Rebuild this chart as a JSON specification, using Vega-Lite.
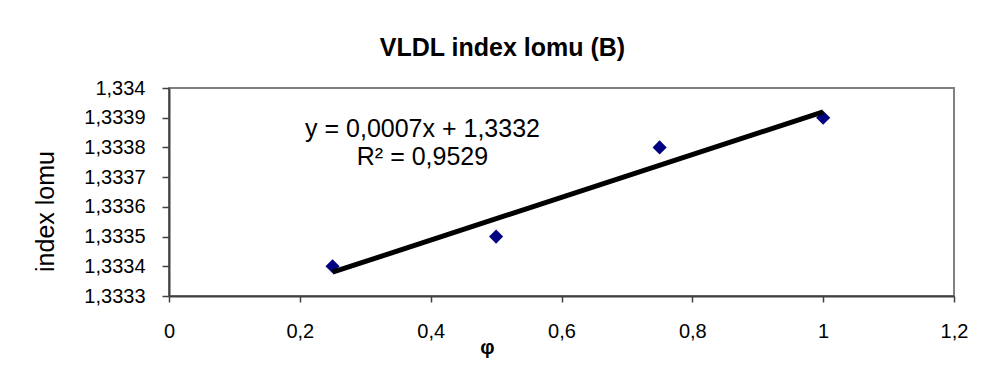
{
  "$schema": "https://vega.github.io/schema/vega-lite/v6.json",
  "width": 785,
  "height": 208,
  "autosize": {"type": "none"},
  "padding": {"left": 169, "top": 88, "right": 39, "bottom": 75},
  "background": "white",
  "title": {
    "text": "VLDL index lomu (B)",
    "font": "Liberation Sans",
    "fontSize": 25,
    "fontWeight": "bold",
    "color": "black",
    "anchor": "middle",
    "frame": "group",
    "dx": -59,
    "offset": 17
  },
  "datasets": {
    "points": [
      {"phi": 0.25, "index": 1.3334},
      {"phi": 0.5, "index": 1.3335},
      {"phi": 0.75, "index": 1.3338},
      {"phi": 1.0, "index": 1.3339}
    ],
    "equation": [
      {"phi": 0.3875, "index": 1.333836, "label": "y = 0,0007x + 1,3332\nR² = 0,9529"}
    ]
  },
  "encoding": {
    "x": {
      "field": "phi",
      "type": "quantitative",
      "scale": {"domain": [0, 1.2], "nice": false, "zero": false},
      "axis": {
        "values": [0, 0.2, 0.4, 0.6, 0.8, 1, 1.2],
        "labelExpr": "replace(format(datum.value, '~g'), '.', ',')",
        "grid": false,
        "tickSize": 6,
        "labelPadding": 19,
        "labelFlush": false,
        "labelOverlap": false,
        "labelFont": "Liberation Sans",
        "labelFontSize": 20,
        "labelColor": "black",
        "domainColor": "#404040",
        "domainWidth": 2,
        "tickColor": "#404040",
        "tickWidth": 1.5,
        "title": "φ",
        "titleFont": "Liberation Sans",
        "titleFontSize": 20,
        "titleFontWeight": "bold",
        "titleColor": "black",
        "titleX": 318,
        "titleY": 57,
        "titleAlign": "center",
        "titleBaseline": "alphabetic"
      }
    },
    "y": {
      "field": "index",
      "type": "quantitative",
      "scale": {"domain": [1.3333, 1.334], "nice": false, "zero": false},
      "axis": {
        "values": [1.3333, 1.3334, 1.3335, 1.3336, 1.3337, 1.3338, 1.3339, 1.334],
        "labelExpr": "replace(format(datum.value, '.5~g'), '.', ',')",
        "grid": false,
        "tickSize": 7,
        "labelPadding": 17,
        "labelFlush": false,
        "labelOverlap": false,
        "labelFont": "Liberation Sans",
        "labelFontSize": 20,
        "labelColor": "black",
        "domainColor": "#404040",
        "domainWidth": 2,
        "tickColor": "#404040",
        "tickWidth": 1.5,
        "title": "index lomu",
        "titleFont": "Liberation Sans",
        "titleFontSize": 25,
        "titleFontWeight": "normal",
        "titleColor": "black",
        "titleAngle": -90,
        "titleX": -116,
        "titleY": 123,
        "titleAlign": "center",
        "titleBaseline": "alphabetic"
      }
    }
  },
  "layer": [
    {
      "data": {"name": "points"},
      "mark": {"type": "point", "shape": "diamond", "filled": true, "size": 200, "color": "#000080", "opacity": 1}
    },
    {
      "data": {"name": "points"},
      "transform": [{"regression": "index", "on": "phi", "extent": [0.25, 1]}],
      "mark": {"type": "line", "color": "black", "strokeWidth": 5}
    },
    {
      "data": {"name": "equation"},
      "mark": {
        "type": "text",
        "font": "Liberation Sans",
        "fontSize": 25,
        "align": "center",
        "baseline": "alphabetic",
        "lineHeight": 28,
        "lineBreak": "\n",
        "color": "black"
      },
      "encoding": {
        "text": {"field": "label"}
      }
    }
  ],
  "config": {
    "view": {"stroke": "#808080", "strokeWidth": 2}
  }
}
